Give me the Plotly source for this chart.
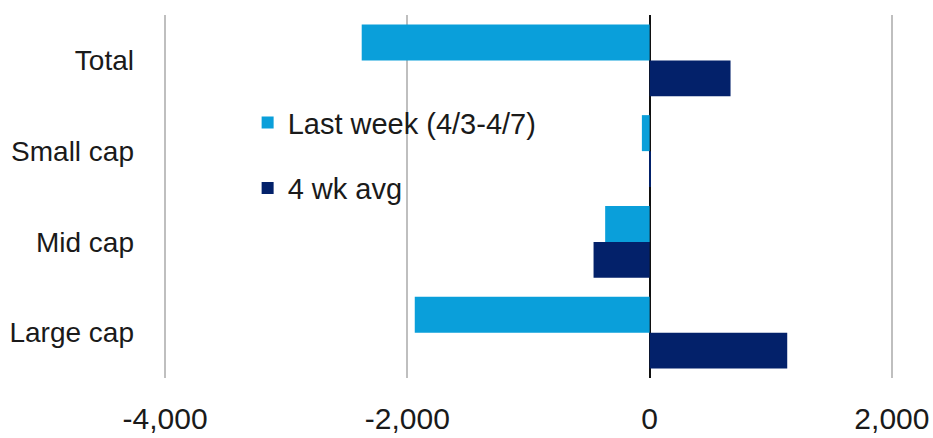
import plotly.graph_objects as go

# Weekly fund flows by market-cap segment
categories = ["Total", "Small cap", "Mid cap", "Large cap"]
last_week = [-2377, -64, -367, -1939]
four_wk_avg = [668, 5, -463, 1136]
series_names = ["Last week (4/3-4/7)", "4 wk avg"]
tick_values = [-4000, -2000, 0, 2000]
tick_labels = ["-4,000", "-2,000", "0", "2,000"]

LIGHT = "#0A9FDA"
DARK = "#03216A"
FONT = "Liberation Sans, Arial, sans-serif"
TEXT = "#1a1a1a"

fig = go.Figure()
fig.add_trace(go.Bar(
    y=categories, x=last_week, orientation="h", name=series_names[0],
    marker=dict(color=LIGHT, line=dict(width=0)), legendgroup="a",
))
fig.add_trace(go.Bar(
    y=categories, x=four_wk_avg, orientation="h", name=series_names[1],
    marker=dict(color=DARK, line=dict(width=0)), legendgroup="b",
))

fig.update_layout(
    width=933, height=438,
    margin=dict(l=153, r=29, t=15, b=60),
    paper_bgcolor="white", plot_bgcolor="white",
    barmode="group", bargap=0.207, bargroupgap=0,
    font=dict(family=FONT, color=TEXT),
    showlegend=True,
    legend=dict(
        x=0.126, y=0.774, xanchor="left", yanchor="top",
        bgcolor="rgba(0,0,0,0)", font=dict(size=29, family=FONT, color=TEXT),
        traceorder="grouped", tracegroupgap=25,
    ),
    xaxis=dict(
        range=[-4100, 2100], tickvals=tick_values, ticktext=tick_labels,
        showgrid=True, gridcolor="#BFBFBF", gridwidth=2,
        zeroline=True, zerolinecolor="#111111", zerolinewidth=2,
        showline=False, ticks="", ticklabelstandoff=20,
        tickfont=dict(size=30, family=FONT, color=TEXT),
        automargin=False, fixedrange=True,
    ),
    yaxis=dict(
        categoryorder="array", categoryarray=categories, autorange="reversed",
        showgrid=False, zeroline=False, showline=False, ticks="",
        ticklabelstandoff=18,
        tickfont=dict(size=28, family=FONT, color=TEXT),
        automargin=False, fixedrange=True,
    ),
)

fig.write_html("out.html")
